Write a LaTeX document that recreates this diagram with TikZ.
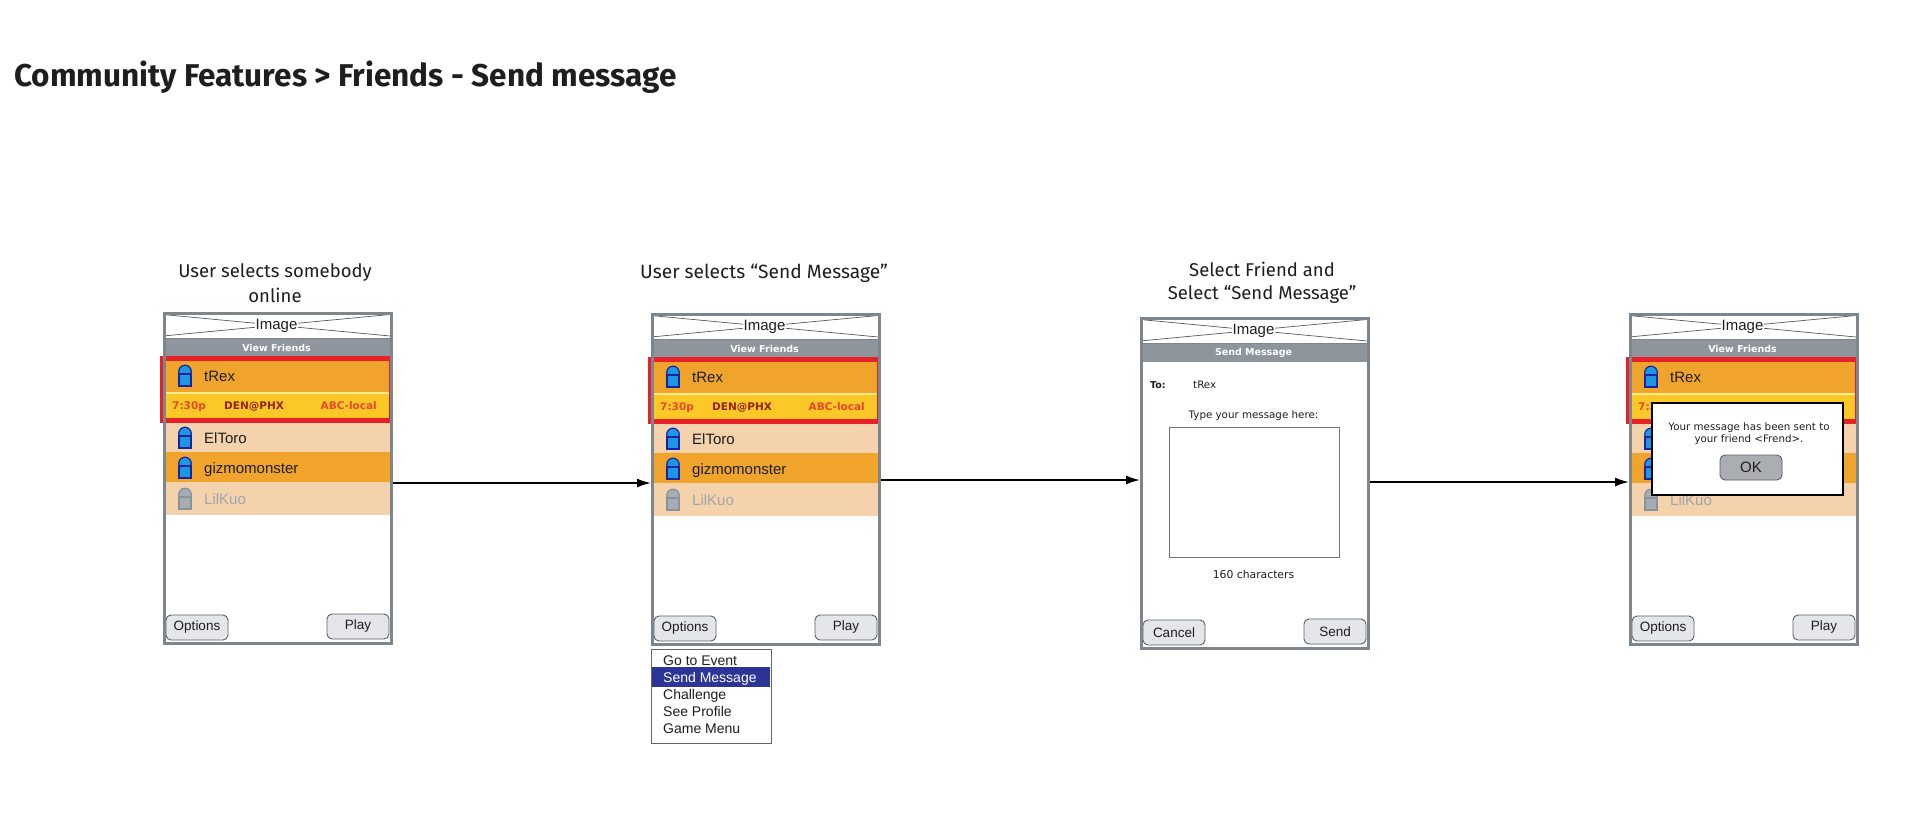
\documentclass[tikz,border=0pt]{standalone}
\usepackage{fontspec}
\setmainfont{Liberation Sans}
\newfontfamily\dvs{DejaVu Sans}
\newfontfamily\fira{Fira Sans}
\usetikzlibrary{arrows.meta}

\definecolor{framegray}{RGB}{125,133,141}
\definecolor{bargray}{RGB}{142,149,156}
\definecolor{orng}{RGB}{240,164,44}
\definecolor{yel}{RGB}{252,200,40}
\definecolor{ltyel}{RGB}{255,236,140}
\definecolor{peach}{RGB}{244,210,172}
\definecolor{redb}{RGB}{232,32,40}
\definecolor{iconblue}{RGB}{30,150,230}
\definecolor{icondark}{RGB}{25,35,160}
\definecolor{icongray}{RGB}{165,172,180}
\definecolor{icongrayd}{RGB}{138,145,153}
\definecolor{lilgray}{RGB}{160,165,172}
\definecolor{timered}{RGB}{232,72,40}
\definecolor{denred}{RGB}{150,35,25}
\definecolor{btnfill}{RGB}{228,230,234}
\definecolor{btnline}{RGB}{90,95,100}
\definecolor{menuhl}{RGB}{44,52,150}
\definecolor{okfill}{RGB}{170,173,178}
\definecolor{txtdark}{RGB}{30,30,30}

\newcommand{\usericon}[4]{%
  \filldraw[fill=#3, draw=#4, line width=1.2pt] (#1,#2+6.5) circle[radius=6.3pt];
  \filldraw[fill=#3, draw=#4, line width=1.2pt] (#1-6,#2+9) rectangle (#1+6,#2+21);
}

\newcommand{\mkheader}[2]{%
  \fill[white] (0,0) rectangle (227,330);
  \draw[xline] (0,2.5) -- (227,24) (0,24) -- (227,2.5);
  \node[imglbl] (#1-img) at (113.5,14) {Image};
  \fill[bargray] (0,26) rectangle (227,44.5);
  \draw[framegray, line width=1pt] (0,26) -- (227,26);
  \node[bartxt] (#1-bar) at (113.5,35.5) {#2};
}

\newcommand{\mklist}[1]{%
  \fill[orng] (0,44.5) rectangle (227,79.5);
  \fill[ltyel] (0,79.5) rectangle (227,82);
  \fill[yel] (0,82) rectangle (227,111);
  \fill[peach] (0,111) rectangle (227,140);
  \fill[orng] (0,140) rectangle (227,170);
  \fill[peach] (0,170) rectangle (227,203);
  \draw[redbox] (-0.5,46.3) rectangle (227.8,108.7);
  \usericon{22}{53}{iconblue}{icondark}
  \usericon{22}{115}{iconblue}{icondark}
  \usericon{22}{145}{iconblue}{icondark}
  \usericon{22}{176}{icongray}{icongrayd}
  \node[nametxt] (#1-n1) at (41,69) {tRex};
  \node[nametxt] (#1-n2) at (41,131) {ElToro};
  \node[nametxt] (#1-n3) at (41,161) {gizmomonster};
  \node[nametxt, text=lilgray] (#1-n4) at (41,192) {LilKuo};
  \node[infotxt, text=timered] (#1-t) at (9,97.5) {7:30p};
  \node[infotxt, text=denred] (#1-g) at (61,97.5) {DEN@PHX};
  \node[infotxt, text=timered, anchor=base east] (#1-c) at (214,97.5) {ABC-local};
}

\newcommand{\mkbuttons}[3]{%
  \node[btn] (#1-b1) at (34,315.5) {#2};
  \node[btn] (#1-b2) at (195,314.5) {#3};
}

\begin{document}
\begin{tikzpicture}[x=1pt,y=-1pt,
  xline/.style={draw=black!65, line width=0.7pt},
  imglbl/.style={fill=white, inner sep=1pt, font=\fontsize{15}{17}\selectfont, text=txtdark},
  bartxt/.style={inner sep=0pt, text=white, font=\dvs\bfseries\fontsize{9.5}{11}\selectfont},
  redbox/.style={draw=redb, line width=4.5pt},
  nametxt/.style={anchor=base west, inner sep=0pt, text=txtdark, font=\fontsize{15}{18}\selectfont},
  infotxt/.style={anchor=base west, inner sep=0pt, font=\dvs\bfseries\fontsize{10.5}{12}\selectfont},
  btn/.style={draw=btnline, fill=btnfill, line width=0.9pt, rounded corners=5pt, minimum width=62pt, minimum height=25pt, inner sep=0pt, text=txtdark, font=\fontsize{13.5}{16}\selectfont},
  frame/.style={anchor=north west, draw=framegray, line width=3pt, minimum width=227pt, minimum height=330pt, inner sep=0pt},
  smalltxt/.style={inner sep=0pt, text=txtdark, font=\dvs\fontsize{10.3}{12}\selectfont},
  heading/.style={anchor=base, inner sep=0pt, text=txtdark, font=\fira\fontsize{18.5}{22}\selectfont},
  arr/.style={-{Latex[length=14pt,width=9pt]}, line width=1.6pt, black},
  menuitem/.style={anchor=base west, inner sep=0pt, font=\fontsize{14}{16}\selectfont, text=txtdark}
]
\useasboundingbox[fill=white] (0,0) rectangle (1920,816);

% title
\node[anchor=base west, inner sep=0pt, text=txtdark, font=\fira\bfseries\fontsize{31.5}{36}\selectfont] (title) at (14,86) {Community Features > Friends - Send message};

% step headings
\node[heading] (h1a) at (275,277) {User selects somebody};
\node[heading] (h1b) at (275,302) {online};
\node[heading, font=\fira\fontsize{19.2}{22}\selectfont] (h2) at (764,278) {User selects “Send Message”};
\node[heading] (h3a) at (1262,276) {Select Friend and};
\node[heading] (h3b) at (1262,299) {Select “Send Message”};

% phone 1
\begin{scope}[shift={(163,312)}]
  \mkheader{p1}{View Friends}
  \mklist{p1}
  \mkbuttons{p1}{Options}{Play}
  \node[frame] (p1) at (0,0) {};
\end{scope}

% phone 2
\begin{scope}[shift={(651,313)}]
  \mkheader{p2}{View Friends}
  \mklist{p2}
  \mkbuttons{p2}{Options}{Play}
  \node[frame] (p2) at (0,0) {};
\end{scope}

% menu
\node[anchor=north west, draw=black!60, fill=white, line width=0.9pt, minimum width=120pt, minimum height=94pt, inner sep=0pt] (menu) at (651,649) {};
\fill[menuhl] (652,667) rectangle (770,687);
\node[menuitem] (m1) at (663,665) {Go to Event};
\node[menuitem, text=white] (m2) at (663,682) {Send Message};
\node[menuitem] (m3) at (663,699) {Challenge};
\node[menuitem] (m4) at (663,716) {See Profile};
\node[menuitem] (m5) at (663,733) {Game Menu};

% phone 3
\begin{scope}[shift={(1140,317)}]
  \mkheader{p3}{Send Message}
  \node[smalltxt, anchor=base west, font=\dvs\bfseries\fontsize{9.5}{11}\selectfont] (p3-to) at (10,71) {To:};
  \node[smalltxt, anchor=base west] (p3-trex) at (53,71) {tRex};
  \node[smalltxt, anchor=base] (p3-type) at (113.5,101) {Type your message here:};
  \node[draw=black!55, line width=0.9pt, fill=white, minimum width=170pt, minimum height=130pt, inner sep=0pt] (p3-box) at (114,175) {};
  \node[smalltxt, anchor=base, font=\dvs\fontsize{10.8}{12}\selectfont] (p3-count) at (113.5,261) {160 characters};
  \mkbuttons{p3}{Cancel}{Send}
  \node[frame] (p3) at (0,0) {};
\end{scope}

% phone 4
\begin{scope}[shift={(1629,313)}]
  \mkheader{p4}{View Friends}
  \mklist{p4}
  \mkbuttons{p4}{Options}{Play}
  \node[frame] (p4) at (0,0) {};
  \node[draw=black, line width=2pt, fill=white, minimum width=191pt, minimum height=92pt, inner sep=0pt] (dlg) at (118.5,136) {};
  \node[smalltxt, anchor=base] (dlg-l1) at (120,117) {Your message has been sent to};
  \node[smalltxt, anchor=base] (dlg-l2) at (120,129) {your friend <Frend>.};
  \node[draw=btnline, fill=okfill, line width=0.9pt, rounded corners=5pt, minimum width=62pt, minimum height=25pt, inner sep=0pt, text=txtdark, font=\fontsize{15}{17}\selectfont] (dlg-ok) at (122,154.5) {OK};
\end{scope}

% connectors
\draw[arr] (p1.east |- 0,483) -- (p2.west |- 0,483);
\draw[arr] (p2.east |- 0,480) -- (p3.west |- 0,480);
\draw[arr] (p3.east |- 0,482) -- (p4.west |- 0,482);
\end{tikzpicture}
\end{document}
